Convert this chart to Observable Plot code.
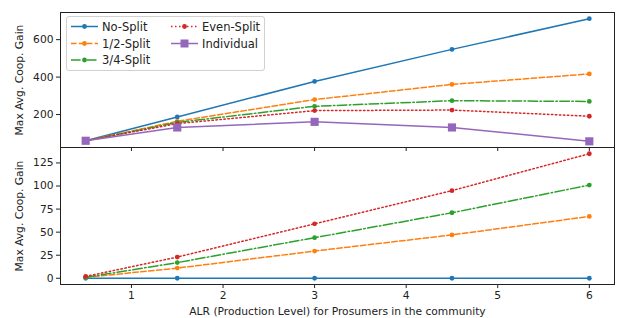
<!DOCTYPE html>
<html><head><meta charset="utf-8">
<script src="https://cdn.jsdelivr.net/npm/d3@7"></script>
<script src="https://cdn.jsdelivr.net/npm/@observablehq/plot@0.6"></script>
<style>
body{margin:0;background:#fff;font-family:"DejaVu Sans",sans-serif}
#wrap{position:relative;width:618px;height:318px;overflow:hidden}
#top,#bot{position:absolute;left:0}
#top{top:0;z-index:2}
#bot{top:147px;z-index:1}
#top svg text,#bot svg text{font-family:"DejaVu Sans",sans-serif !important;font-size:10.7px}
#legend{position:absolute;left:66px;top:16px;width:197px;height:53px;border:1px solid #d0d0d0;border-radius:3px;background:rgba(255,255,255,0.85);z-index:3}
#legend svg{position:absolute;left:0;top:0}
#legend text{font-family:"DejaVu Sans",sans-serif;font-size:11.5px}
</style></head><body>
<div id="wrap"><div id="top"></div><div id="bot"></div><div id="legend"></div></div>
<script>
const alr = [0.5, 1.5, 3, 4.5, 6];
const seriesNames = ["No-Split", "1/2-Split", "3/4-Split", "Even-Split", "Individual"];
const colors = ["#1f77b4", "#ff7f0e", "#2ca02c", "#d62728", "#9467bd"];
const dashes = ["none", "5.5,2.4", "9.6,2.4,1.5,2.4", "1.5,2.5", "none"];
// top panel
const topNoSplit   = [60, 187, 377, 548, 712];
const topHalf      = [60, 164, 280, 361, 417];
const topThreeQ    = [60, 158, 244, 274, 270];
const topEven      = [60, 152, 221, 224, 191];
const topIndividual= [60, 131, 161, 131, 57];
// bottom panel
const botNoSplit = [0, 0, 0, 0, 0];
const botHalf    = [1, 11, 29.5, 47, 67];
const botThreeQ  = [1, 17, 44, 71, 101];
const botEven    = [2, 23, 59, 95, 135];
const topTicks = [200, 400, 600];
const botTicks = [0, 25, 50, 75, 100, 125];
const xTicks = [1, 2, 3, 4, 5, 6];
const yLabel = "Max Avg. Coop. Gain";
const xLabel = "ALR (Production Level) for Prosumers in the community";

const topSeries = [topNoSplit, topHalf, topThreeQ, topEven, topIndividual];
const botSeries = [botNoSplit, botHalf, botThreeQ, botEven];

function rows(vals){ return alr.map((x,i)=>({x, y: vals[i]})); }

function seriesMarks(list){
  const m = [];
  list.forEach((vals, i) => {
    const d = rows(vals);
    m.push(Plot.line(d, {x:"x", y:"y", stroke: colors[i], strokeWidth: 1.5, strokeDasharray: dashes[i]}));
    if (i === 4) m.push(Plot.dot(d, {x:"x", y:"y", fill: colors[i], symbol: "square", r: 4.6}));
    else m.push(Plot.dot(d, {x:"x", y:"y", fill: colors[i], r: 2.4}));
  });
  return m;
}

const common = {width: 618, marginLeft: 60, marginRight: 4,
  style: {background: "transparent", overflow: "visible", color: "#222"}};

const topPlot = Plot.plot({...common, height: 147, marginTop: 12, marginBottom: 0,
  x: {domain: [0.225, 6.275]},
  y: {domain: [24, 745]},
  marks: [
    Plot.frame({stroke: "#222", strokeWidth: 1}),
    Plot.axisX({ticks: xTicks, tickFormat: () => "", tickSize: 4, anchor: "bottom", label: null}),
    Plot.axisY({ticks: topTicks, tickFormat: "d", tickSize: 4, tickPadding: 3, label: yLabel, labelAnchor: "center", labelArrow: "none", labelOffset: 45}),
    ...seriesMarks(topSeries)
  ]});
document.getElementById("top").appendChild(topPlot);

const botPlot = Plot.plot({...common, height: 171, marginTop: 0, marginBottom: 34,
  x: {domain: [0.225, 6.275]},
  y: {domain: [-6.75, 141.75]},
  marks: [
    Plot.frame({stroke: "#222", strokeWidth: 1}),
    Plot.axisX({ticks: xTicks, tickFormat: "d", tickSize: 4, tickPadding: 3, label: xLabel, labelAnchor: "center", labelArrow: "none", labelOffset: 30}),
    Plot.axisY({ticks: botTicks, tickFormat: "d", tickSize: 4, tickPadding: 3, label: yLabel, labelAnchor: "center", labelArrow: "none", labelOffset: 45}),
    ...seriesMarks(botSeries)
  ]});
document.getElementById("bot").appendChild(botPlot);

// legend
const lg = d3.select("#legend").append("svg").attr("width", 197).attr("height", 53);
const pos = [[4, 9.5], [4, 26.5], [4, 43], [104, 9.5], [104, 26.5]];
seriesNames.forEach((name, i) => {
  const [lx, ly] = pos[i];
  const g = lg.append("g").attr("transform", `translate(${lx},${ly})`);
  g.append("line").attr("x1", 0).attr("x2", 27).attr("y1", 0).attr("y2", 0)
    .attr("stroke", colors[i]).attr("stroke-width", 1.5).attr("stroke-dasharray", dashes[i]);
  if (i === 4) g.append("rect").attr("x", 13.5 - 4).attr("y", -4).attr("width", 8).attr("height", 8).attr("fill", colors[i]);
  else g.append("circle").attr("cx", 13.5).attr("cy", 0).attr("r", 2.4).attr("fill", colors[i]);
  g.append("text").attr("x", 31).attr("y", 0).attr("dy", "0.35em").attr("fill", "#222").text(name);
});
</script>
</body></html>
